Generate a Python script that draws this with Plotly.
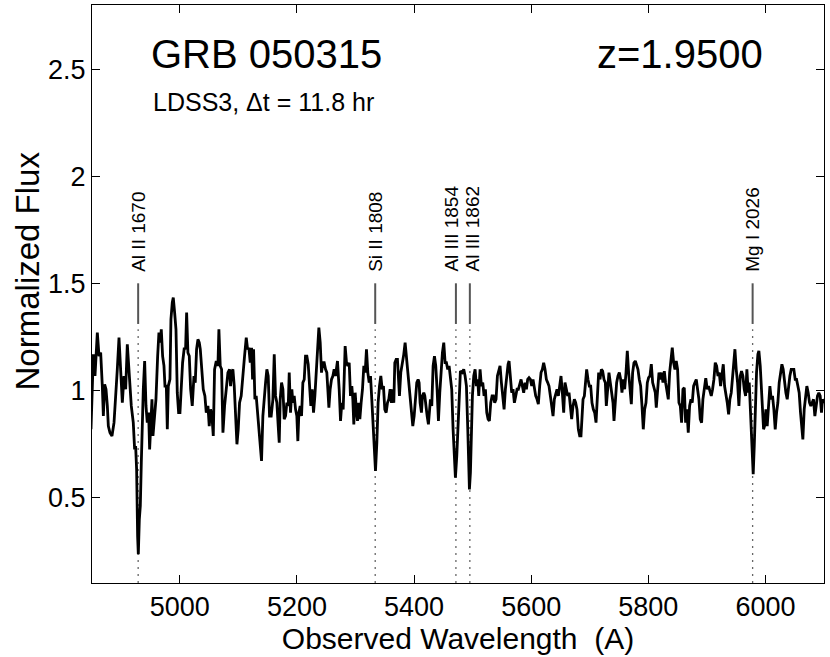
import plotly.graph_objects as go

# spectrum of GRB 050315, in blocks of wavelength
wave_1 = [4848.3, 4852.3, 4855.1, 4859.1, 4862.0, 4864.8, 4867.6, 4869.4, 4871.6, 4873.9,
          4876.2, 4877.9, 4880.7, 4884.1, 4887.6, 4890.4, 4893.2, 4896.1, 4898.9, 4901.8,
          4904.6, 4907.5, 4910.3, 4913.1, 4914.9, 4917.1, 4920.5, 4922.8, 4924.5, 4926.2,
          4927.9, 4929.1, 4930.8, 4932.5, 4934.2, 4935.9, 4937.6, 4939.9, 4942.2, 4944.4,
          4946.7, 4948.4, 4950.7, 4952.4, 4954.1, 4956.4, 4959.2, 4962.1, 4964.3, 4966.6,
          4968.3, 4970.6, 4972.9, 4974.6, 4976.9, 4978.6, 4980.3, 4983.1, 4984.8, 4987.1,
          4988.8, 4991.1, 4993.4, 4995.6, 4997.9, 5000.2, 5002.5, 5004.7, 5007.6, 5009.8,
          5011.6, 5013.8, 5016.1, 5018.4, 5021.2, 5024.1, 5026.3, 5028.6, 5030.9, 5033.2,
          5034.9, 5037.1, 5040.0, 5042.8, 5045.1, 5048.0, 5050.2, 5052.5, 5054.8, 5057.1]
flux_1 = [0.818, 1.168, 1.067, 1.270, 1.160, 1.176, 1.020, 0.880, 1.028, 1.005,
          0.927, 0.833, 0.802, 0.787, 0.849, 0.958, 1.098, 1.246, 1.114, 0.942,
          1.067, 1.005, 1.215, 1.083, 1.020, 0.927, 0.849, 0.724, 0.740, 0.631,
          0.319, 0.234, 0.397, 0.460, 0.662, 0.927, 1.005, 1.137, 0.927, 0.849,
          0.896, 0.724, 0.849, 0.958, 0.787, 0.880, 0.958, 1.160, 1.270, 1.223,
          1.285, 1.160, 1.114, 1.020, 1.020, 0.818, 1.020, 1.051, 1.332, 1.410,
          1.433, 1.363, 1.285, 0.989, 0.896, 0.896, 1.005, 1.129, 1.199, 1.192,
          1.363, 1.176, 1.160, 1.005, 0.927, 1.067, 1.036, 1.192, 1.238, 1.223,
          1.192, 1.098, 1.005, 0.974, 0.896, 0.927, 0.833, 0.911, 0.880, 0.787]

wave_2 = [5059.3, 5062.2, 5065.0, 5066.7, 5069.0, 5071.3, 5073.6, 5076.4, 5079.3, 5082.1,
          5084.9, 5086.6, 5088.4, 5090.6, 5092.9, 5095.2, 5097.5, 5099.7, 5102.0, 5104.8,
          5107.7, 5110.5, 5113.4, 5115.7, 5117.9, 5120.2, 5122.5, 5124.2, 5125.9, 5128.2,
          5130.4, 5132.7, 5135.0, 5137.3, 5139.5, 5141.8, 5144.1, 5146.4, 5148.6, 5150.9,
          5153.2, 5156.0, 5158.9, 5161.2, 5163.4, 5165.7, 5168.0, 5169.7, 5171.4, 5173.7,
          5176.0, 5178.2, 5180.5, 5182.8, 5185.1, 5186.8, 5189.0, 5191.3, 5193.0, 5195.3,
          5197.6, 5199.8, 5201.5, 5203.3, 5205.5, 5207.8, 5210.1, 5212.4, 5214.6, 5216.9,
          5219.2, 5221.5, 5223.7, 5226.0, 5228.3, 5230.6, 5232.8, 5235.1, 5237.4, 5239.7,
          5241.9, 5244.2, 5246.5, 5248.8, 5251.0, 5252.7, 5254.5, 5256.7, 5259.0, 5261.3,
          5263.5, 5265.8]
flux_2 = [1.098, 1.137, 1.114, 1.285, 1.114, 1.098, 0.802, 0.927, 1.020, 1.083,
          1.098, 1.020, 1.083, 1.098, 1.020, 0.849, 0.748, 0.818, 0.942, 0.974,
          1.083, 1.160, 1.246, 1.192, 1.199, 1.129, 1.199, 1.051, 1.192, 0.958,
          0.974, 0.896, 0.802, 0.755, 0.670, 0.880, 0.974, 1.036, 1.098, 1.067,
          0.880, 0.880, 0.958, 1.168, 0.974, 0.942, 0.833, 0.755, 0.958, 1.036,
          1.005, 0.865, 0.880, 0.942, 0.927, 1.083, 0.896, 1.005, 0.942, 0.974,
          0.911, 0.880, 0.763, 0.896, 0.927, 0.880, 1.036, 1.051, 1.160, 1.160,
          1.122, 1.005, 0.927, 1.005, 0.896, 0.974, 1.083, 1.160, 1.293, 1.223,
          1.083, 1.129, 1.129, 1.098, 1.083, 1.005, 0.919, 1.005, 1.051, 1.067,
          1.098, 1.067]

wave_3 = [5269.2, 5272.1, 5274.4, 5276.6, 5278.9, 5280.6, 5282.3, 5284.6, 5286.9, 5289.2,
          5291.4, 5293.7, 5295.4, 5297.1, 5299.4, 5301.7, 5303.4, 5305.1, 5307.4, 5309.6,
          5311.9, 5314.2, 5316.5, 5318.7, 5321.0, 5323.3, 5325.6, 5327.8, 5330.1, 5332.4,
          5334.1, 5336.4, 5338.6, 5340.9, 5343.2, 5345.5, 5347.7, 5350.0, 5352.3, 5354.6,
          5356.8, 5359.1, 5361.4, 5363.1, 5365.4, 5367.1, 5369.4, 5371.6, 5373.3, 5375.0,
          5377.3, 5380.2, 5382.4, 5384.7, 5387.0, 5389.3, 5391.5, 5393.8, 5396.1, 5397.8,
          5400.1, 5402.3, 5404.6, 5406.9, 5408.6, 5410.3, 5412.6, 5414.3, 5416.6, 5418.3,
          5420.0, 5422.3, 5424.5, 5426.2, 5427.9, 5430.2, 5432.5, 5434.8, 5437.0, 5439.3,
          5441.6, 5443.9, 5446.1, 5448.4, 5450.7, 5453.0, 5455.2, 5457.5, 5459.8, 5462.1,
          5464.3, 5466.6, 5468.9, 5470.6, 5472.9, 5475.1, 5477.4]
flux_3 = [1.137, 1.005, 0.857, 0.942, 0.911, 1.051, 1.207, 1.129, 1.114, 1.129,
          0.974, 1.020, 0.958, 0.841, 0.989, 0.896, 0.857, 0.942, 0.865, 0.942,
          1.005, 1.114, 1.083, 1.192, 1.083, 1.036, 1.067, 0.958, 0.833, 0.678,
          0.623, 0.755, 0.942, 1.020, 1.067, 1.005, 1.020, 0.911, 0.896, 0.942,
          0.958, 1.005, 0.942, 1.005, 0.942, 1.129, 1.145, 1.145, 1.067, 0.974,
          1.083, 1.129, 1.168, 1.223, 1.160, 1.098, 1.005, 0.942, 0.880, 0.833,
          0.880, 0.974, 1.036, 1.051, 1.036, 0.942, 0.896, 0.974, 0.989, 0.974,
          0.927, 0.880, 0.841, 0.911, 0.958, 0.927, 1.114, 1.160, 1.114, 1.005,
          0.857, 0.989, 1.114, 1.176, 1.223, 1.129, 1.129, 1.098, 1.114, 1.067,
          1.005, 0.818, 0.631, 0.592, 0.693, 0.849, 0.989]

wave_4 = [5479.1, 5482.0, 5484.8, 5487.1, 5489.4, 5491.7, 5493.4, 5494.5, 5496.2, 5497.9,
          5499.6, 5501.9, 5504.2, 5506.4, 5508.7, 5510.4, 5512.7, 5515.0, 5517.3, 5519.5,
          5521.8, 5524.1, 5526.4, 5528.6, 5530.9, 5533.2, 5535.5, 5537.7, 5540.0, 5542.3,
          5544.6, 5546.8, 5549.1, 5551.4, 5553.7, 5555.9, 5558.2, 5560.5, 5562.2, 5564.5,
          5566.7, 5569.0, 5571.3, 5573.6, 5575.8, 5578.1, 5580.4, 5582.7, 5584.9, 5587.2,
          5589.5, 5591.8, 5594.0, 5596.3, 5598.6, 5600.9, 5603.1, 5605.4, 5607.7, 5610.0,
          5612.2, 5614.5, 5616.8, 5619.1, 5621.3, 5623.6, 5625.9, 5628.2, 5630.4, 5632.7,
          5635.0, 5637.3, 5639.5, 5641.8, 5644.1, 5646.4, 5648.6, 5650.9, 5653.2, 5655.5,
          5657.7, 5660.0, 5662.3, 5664.6, 5666.8, 5669.1, 5671.4, 5673.7, 5675.9, 5678.2,
          5680.5, 5682.8, 5685.0, 5687.3]
flux_4 = [1.090, 1.083, 1.098, 1.067, 1.020, 0.818, 0.600, 0.537, 0.615, 0.787,
          0.974, 1.067, 1.098, 1.020, 1.051, 0.974, 1.098, 1.020, 1.036, 0.974,
          1.005, 0.896, 0.865, 0.857, 0.942, 0.974, 0.974, 0.942, 0.958, 1.067,
          1.098, 1.114, 1.036, 0.958, 0.911, 1.005, 1.083, 1.122, 1.137, 1.067,
          0.989, 1.005, 0.942, 0.974, 1.005, 1.005, 1.036, 1.051, 1.020, 0.989,
          1.036, 1.005, 1.051, 1.059, 1.051, 1.020, 1.051, 1.005, 0.974, 0.958,
          0.935, 1.020, 1.083, 1.098, 1.129, 1.098, 1.051, 1.036, 1.020, 0.974,
          0.911, 0.880, 0.958, 0.989, 1.005, 0.974, 1.020, 1.067, 0.989, 0.896,
          1.036, 1.005, 0.974, 0.989, 0.927, 0.865, 0.927, 0.958, 0.942, 0.911,
          0.818, 0.787, 0.787, 0.958]

wave_5 = [5688.5, 5690.8, 5693.0, 5694.7, 5697.0, 5699.3, 5701.6, 5703.8, 5706.1, 5708.4,
          5710.7, 5712.9, 5715.2, 5717.5, 5719.8, 5722.0, 5724.3, 5726.6, 5728.3, 5730.6,
          5732.8, 5735.1, 5737.4, 5739.7, 5741.4, 5743.7, 5745.9, 5748.2, 5750.5, 5752.8,
          5755.0, 5757.3, 5759.6, 5761.9, 5764.1, 5766.4, 5768.7, 5771.0, 5773.2, 5775.5,
          5777.8, 5780.1, 5782.3, 5784.6, 5786.9, 5789.2, 5791.4, 5793.7, 5796.0, 5798.3,
          5800.5, 5802.8, 5805.1, 5807.4, 5809.6, 5811.9, 5813.6, 5815.9, 5818.2, 5820.4,
          5822.7, 5825.0, 5827.3, 5829.5, 5831.8, 5834.1, 5836.4, 5838.6, 5840.9, 5843.2,
          5845.5, 5847.7, 5850.0, 5852.3, 5854.6, 5856.8, 5859.1, 5861.4, 5863.7, 5865.9,
          5868.2, 5870.5, 5872.8, 5875.0, 5877.3, 5879.6, 5881.9, 5884.1, 5886.4, 5888.7,
          5891.0, 5893.2, 5895.5, 5897.8]
flux_5 = [0.958, 0.974, 1.067, 1.098, 1.051, 1.020, 1.020, 0.942, 0.911, 0.896,
          0.849, 0.958, 1.083, 1.051, 1.098, 1.090, 1.051, 1.036, 0.927, 1.005,
          1.083, 1.036, 0.989, 0.942, 0.857, 0.974, 1.036, 1.067, 1.083, 1.051,
          0.989, 1.051, 1.005, 1.083, 1.184, 1.083, 1.005, 0.935, 1.083, 1.129,
          1.137, 1.114, 1.098, 1.051, 1.020, 0.927, 0.818, 0.911, 0.942, 1.036,
          1.059, 1.067, 1.122, 1.036, 1.005, 0.989, 0.919, 1.005, 1.083, 1.051,
          1.083, 1.036, 1.090, 1.036, 1.005, 0.958, 1.083, 1.160, 1.199, 1.129,
          1.098, 1.137, 1.098, 0.942, 0.927, 0.849, 1.005, 1.012, 0.849, 0.911,
          0.802, 0.927, 0.958, 0.942, 1.020, 1.036, 1.051, 1.005, 0.958, 0.865,
          0.849, 0.958, 1.020, 1.051]

wave_6 = [5898.4, 5900.6, 5902.9, 5905.2, 5907.5, 5909.7, 5912.0, 5914.3, 5916.6, 5918.9,
          5921.1, 5923.4, 5925.7, 5928.0, 5930.2, 5932.5, 5934.8, 5937.1, 5939.3, 5941.6,
          5943.9, 5946.2, 5947.9, 5950.1, 5952.4, 5954.7, 5957.0, 5959.2, 5961.5, 5963.8,
          5966.1, 5968.3, 5970.6, 5972.3, 5974.0, 5975.7, 5977.4, 5979.1, 5980.9, 5982.6,
          5984.8, 5987.1, 5988.8, 5991.1, 5993.4, 5995.1, 5996.8, 5998.5, 6000.8, 6003.0,
          6005.3, 6007.6, 6009.9, 6012.1, 6014.4, 6016.7, 6019.0, 6021.2, 6023.5, 6025.8,
          6028.1, 6030.3, 6032.6, 6034.9, 6037.2, 6039.4, 6041.7, 6044.0, 6046.3, 6048.5,
          6050.8, 6053.1, 6055.4, 6057.6, 6059.9, 6062.2, 6063.9, 6066.2, 6068.4, 6070.7,
          6073.0, 6075.3, 6077.5, 6079.8, 6082.1, 6084.4, 6086.6, 6088.9, 6091.2, 6093.5,
          6095.7, 6097.4, 6100.0]
flux_6 = [1.051, 1.005, 1.020, 0.989, 0.974, 1.005, 1.051, 1.129, 1.114, 1.067,
          1.083, 1.020, 1.083, 1.122, 1.020, 0.989, 0.942, 0.888, 0.958, 0.989,
          1.067, 1.129, 1.192, 1.098, 1.036, 0.927, 1.067, 1.090, 1.067, 1.005,
          0.974, 1.098, 0.989, 1.036, 0.927, 0.818, 0.709, 0.608, 0.740, 0.911,
          1.083, 1.168, 1.184, 1.114, 1.005, 0.896, 0.818, 0.833, 0.911, 0.833,
          0.958, 1.020, 0.958, 0.974, 0.911, 0.818, 0.896, 0.942, 1.036, 1.083,
          1.122, 1.098, 1.036, 0.989, 0.958, 1.020, 1.067, 1.098, 1.098, 1.098,
          1.051, 1.051, 1.020, 0.989, 0.896, 0.818, 0.771, 0.911, 0.974, 1.020,
          0.989, 0.942, 0.927, 0.942, 0.958, 0.880, 0.942, 0.974, 0.989, 0.974,
          0.896, 0.958, 0.940]

# absorption lines
z = 1.95
line_names = ["Al II 1670", "Si II 1808", "Al III 1854", "Al III 1862", "Mg I 2026"]
line_rest = [1670.79, 1808.01, 1854.72, 1862.79, 2026.48]

x_ticks = [5000, 5200, 5400, 5600, 5800, 6000]
y_ticks = [0.5, 1, 1.5, 2, 2.5]
y_ticklabels = ["0.5", "1", "1.5", "2", "2.5"]

wave = wave_1 + wave_2 + wave_3 + wave_4 + wave_5 + wave_6
flux = flux_1 + flux_2 + flux_3 + flux_4 + flux_5 + flux_6
line_obs = [w * (1 + z) for w in line_rest]

FONT = "Liberation Sans, Arial, Helvetica, sans-serif"

fig = go.Figure()

# dotted guides below each marker
dx, dy = [], []
for w in line_obs:
    dx += [w, w, None]
    dy += [0.1, 1.285, None]
fig.add_trace(go.Scatter(x=dx, y=dy, mode='lines', hoverinfo='skip',
                         line=dict(color='#666666', width=1.3, dash='2px,5px')))

# short solid markers
sx, sy = [], []
for w in line_obs:
    sx += [w, w, None]
    sy += [1.31, 1.5, None]
fig.add_trace(go.Scatter(x=sx, y=sy, mode='lines', hoverinfo='skip',
                         line=dict(color='#555555', width=2)))

fig.add_trace(go.Scatter(x=wave, y=flux, mode='lines',
                         line=dict(color='black', width=2.8)))

# the two Al III labels sit very close, nudge them apart a little
nudge = {"Al III 1854": -4, "Al III 1862": 3}
for name, w in zip(line_names, line_obs):
    fig.add_annotation(x=w, y=1.545, text=name, textangle=-90, showarrow=False,
                       xanchor='center', yanchor='bottom', xshift=nudge.get(name, 0),
                       font=dict(family=FONT, size=19, color='black'))

fig.add_annotation(xref='paper', yref='paper', x=0.078, y=0.915, text="GRB 050315",
                   showarrow=False, xanchor='left', yanchor='middle',
                   font=dict(family=FONT, size=40, color='black'))
fig.add_annotation(xref='paper', yref='paper', x=0.919, y=0.915, text="z=1.9500",
                   showarrow=False, xanchor='right', yanchor='middle',
                   font=dict(family=FONT, size=40, color='black'))
fig.add_annotation(xref='paper', yref='paper', x=0.080, y=0.832,
                   text="LDSS3, \u0394t = 11.8 hr",
                   showarrow=False, xanchor='left', yanchor='middle',
                   font=dict(family=FONT, size=25, color='black'))

# y label placed by hand (it sits a bit above the axis middle in the original)
fig.add_annotation(xref='paper', yref='paper', x=-0.088, y=0.54, text="Normalized Flux",
                   textangle=-90, showarrow=False, xanchor='center', yanchor='middle',
                   font=dict(family=FONT, size=33, color='black'))

axis_style = dict(showline=True, linecolor='black', linewidth=1, mirror='ticks',
                  ticks='inside', ticklen=8, tickcolor='black', showgrid=False,
                  zeroline=False, automargin=False,
                  tickfont=dict(family=FONT, size=27, color='black'))

fig.update_layout(
    width=830, height=657,
    margin=dict(l=92, r=6, t=5, b=74),
    paper_bgcolor='white', plot_bgcolor='white',
    showlegend=False,
    xaxis=dict(range=[4850, 6100], tickvals=x_ticks,
               title=dict(text="Observed Wavelength\u00a0 (A)", standoff=2,
                          font=dict(family=FONT, size=30, color='black')),
               **axis_style),
    yaxis=dict(range=[0.1, 2.8], tickvals=y_ticks, ticktext=y_ticklabels,
               **axis_style),
)

# page margin off so the figure sits at the window's top-left corner
fig.write_html("out.html", config={'displayModeBar': False},
               post_script="document.body.style.margin='0';document.body.style.overflow='hidden';")
